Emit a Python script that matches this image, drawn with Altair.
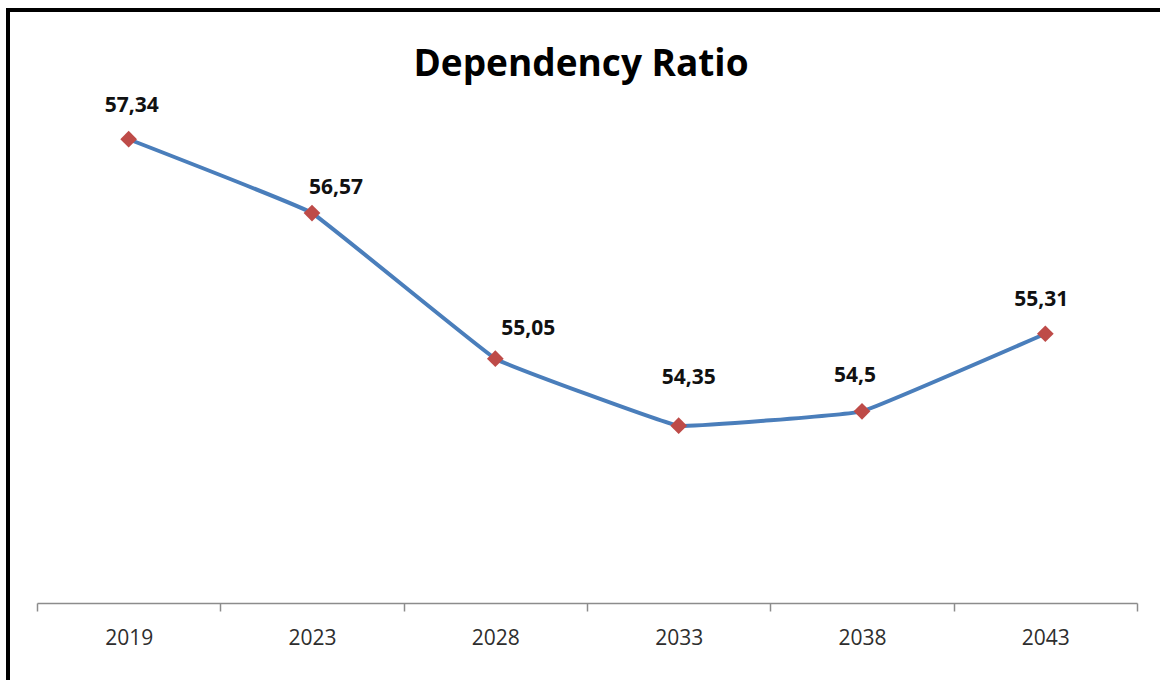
import altair as alt
import pandas as pd

# ---- data ----
years = ["2019", "2023", "2028", "2033", "2038", "2043"]
ratio = [57.34, 56.57, 55.05, 54.35, 54.5, 55.31]
labels = ["57,34", "56,57", "55,05", "54,35", "54,5", "55,31"]
title_text = "Dependency Ratio"

df = pd.DataFrame({"year": years, "ratio": ratio, "label": labels})

# label offsets (styling, px) relative to each marker
label_offsets = {
    "2019": (3, -33),
    "2023": (24, -25),
    "2028": (33, -30),
    "2033": (10, -48),
    "2038": (-7, -35),
    "2043": (-4, -34),
}

LINE = "#4A7EBB"
MARK = "#BE4B48"

x = alt.X(
    "year:N",
    sort=years,
    bandPosition=0.5,
    scale=alt.Scale(type="band", paddingInner=0, paddingOuter=0),
    axis=alt.Axis(
        title=None,
        labelAngle=0,
        tickBand="extent",
        domainColor="#8C8C8C",
        domainWidth=1.5,
        tickColor="#8C8C8C",
        tickWidth=1.5,
        tickSize=8,
        labelPadding=16,
        labelFont="Open Sans",
        labelFontSize=21,
        labelColor="#2E2E2E",
        grid=False,
    ),
)
y = alt.Y("ratio:Q", scale=alt.Scale(domain=[52.5, 58], nice=False, zero=False), axis=None)

base = alt.Chart(df)

line = base.mark_line(color=LINE, strokeWidth=4, interpolate="cardinal", tension=0.8).encode(x=x, y=y)
points = base.mark_point(shape="diamond", filled=True, color=MARK, size=280, opacity=1).encode(x=x, y=y)

texts = []
for yr, (dx, dy) in label_offsets.items():
    texts.append(
        base.transform_filter(alt.datum.year == yr)
        .mark_text(font="Open Sans", fontSize=21, fontWeight="bold", color="#111111", dx=dx, dy=dy)
        .encode(x=x, y=y, text="label:N")
    )

# chart title as a text mark (centred over the chart)
title = (
    alt.Chart(pd.DataFrame({"t": [title_text]}))
    .mark_text(font="Open Sans", fontSize=37, fontWeight="bold", color="#000000", baseline="alphabetic", align="center")
    .encode(x=alt.value(544), y=alt.value(0), text="t:N")
)

# frame (top and left edges visible in the reference)
frame_top = base.mark_rule(color="black", strokeWidth=4).encode(
    x=alt.value(-31), x2=alt.value(1123), y=alt.value(-66)
)
frame_left = base.mark_rule(color="black", strokeWidth=4).encode(
    x=alt.value(-29), y=alt.value(-68), y2=alt.value(604)
)

chart = (
    alt.layer(frame_top, frame_left, line, points, *texts, title)
    .properties(
        width=1100,
        height=527,
        padding={"left": 37, "top": 76, "right": 23, "bottom": 77},
        autosize=alt.AutoSizeParams(type="none"),
        background="white",
    )
    .configure_view(stroke=None)
)

chart.save("out.html", embed_options={"renderer": "svg", "actions": False})
